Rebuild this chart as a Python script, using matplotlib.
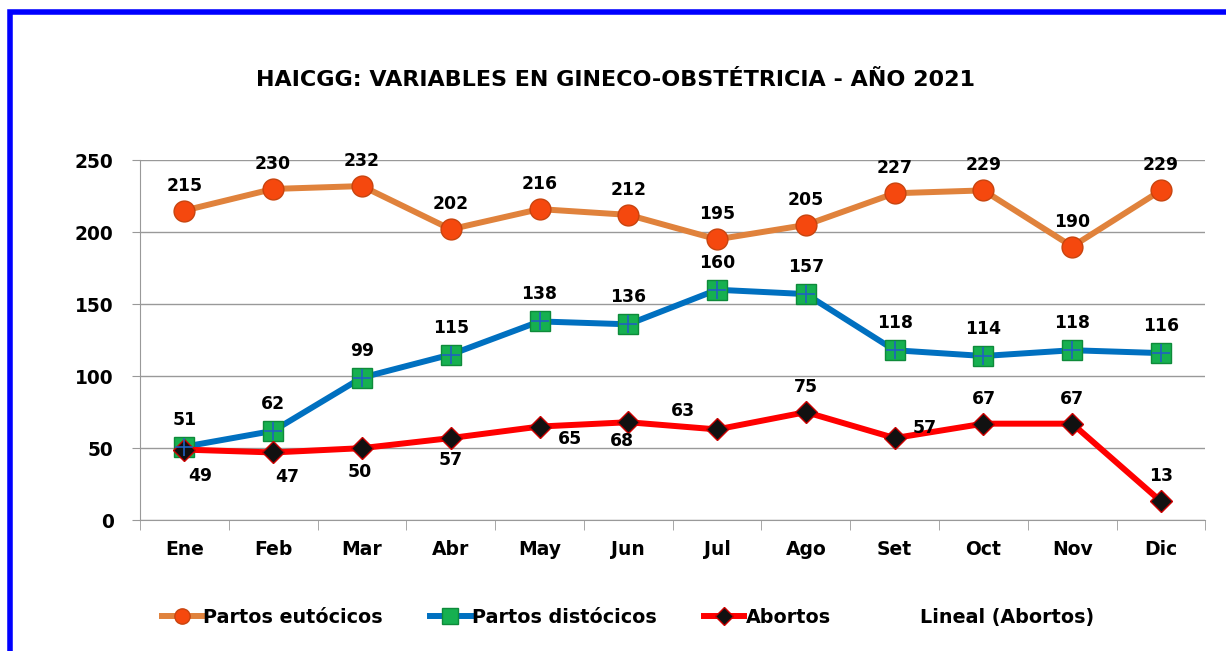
import matplotlib.pyplot as plt
from matplotlib.lines import Line2D
from matplotlib.patches import Rectangle

meses = ["Ene", "Feb", "Mar", "Abr", "May", "Jun", "Jul", "Ago", "Set", "Oct", "Nov", "Dic"]
eutocicos = [215, 230, 232, 202, 216, 212, 195, 205, 227, 229, 190, 229]
distocicos = [51, 62, 99, 115, 138, 136, 160, 157, 118, 114, 118, 116]
abortos = [49, 47, 50, 57, 65, 68, 63, 75, 57, 67, 67, 13]

# label offsets in pixels (x, y) for the abortos series
off_abortos = [(16, -26), (14, -25), (-2, -24), (0, -22), (30, -12), (-6, -19),
               (-34, 18), (0, 25), (30, 10), (0, 25), (0, 25), (0, 25)]

plt.rcParams["font.family"] = ["DejaVu Sans"]
plt.rcParams["font.weight"] = "bold"

fig = plt.figure(figsize=(12.26, 6.51), dpi=100)
ax = fig.add_axes([0.1142, 0.201, 0.869, 0.553])

x = list(range(len(meses)))

ax.plot(x, eutocicos, color="#E0823C", lw=4.3, zorder=3,
        marker="o", ms=15, mfc="#F5480E", mec="#C8440E", mew=1)
ax.plot(x, distocicos, color="#0070C0", lw=4.3, zorder=3,
        marker="s", ms=14, mfc="#16B050", mec="#0E8A3A", mew=1)
ax.plot(x, distocicos, ls="none", marker="+", ms=13, mec="#2060C0", mew=1.2, zorder=4)
ax.plot(x, abortos, color="#FF0000", lw=4.3, zorder=3,
        marker="D", ms=11, mfc="#111111", mec="#CC0000", mew=1)

for i in x:
    ax.annotate(str(eutocicos[i]), (i, eutocicos[i]), xytext=(0, 25),
                textcoords="offset pixels", ha="center", va="center",
                fontsize=12.4, fontweight="bold", zorder=5)
    ax.annotate(str(distocicos[i]), (i, distocicos[i]), xytext=(0, 27),
                textcoords="offset pixels", ha="center", va="center",
                fontsize=12.4, fontweight="bold", zorder=5)
    ax.annotate(str(abortos[i]), (i, abortos[i]), xytext=off_abortos[i],
                textcoords="offset pixels", ha="center", va="center",
                fontsize=12.4, fontweight="bold", zorder=5)

ax.set_xlim(-0.5, len(meses) - 0.5)
ax.set_ylim(0, 250)
ax.set_yticks(range(0, 251, 50))
ax.set_xticks(x)
ax.set_xticklabels(meses, fontsize=13.5, fontweight="bold")
ax.tick_params(axis="x", length=0, pad=14)
ax.set_xticks([i + 0.5 for i in range(-1, len(meses))], minor=True)
ax.tick_params(axis="x", which="minor", length=7, color="#999999", direction="out")
ax.tick_params(axis="y", labelsize=13.4, length=6, color="#999999", pad=13)
for lab in ax.get_yticklabels():
    lab.set_fontweight("bold")

ax.grid(axis="y", color="#999999", lw=1)
ax.set_axisbelow(True)
for s in ["top", "right"]:
    ax.spines[s].set_visible(False)
ax.spines["left"].set_color("#999999")
ax.spines["bottom"].set_color("#999999")

fig.text(0.502, 0.877, "HAICGG: VARIABLES EN GINECO-OBSTÉTRICIA - AÑO 2021",
         ha="center", va="center", fontsize=16, fontweight="bold")

handles = [
    Line2D([], [], color="#E0823C", lw=4.3, marker="o", ms=11, mfc="#F5480E", mec="#C8440E"),
    Line2D([], [], color="#0070C0", lw=4.3, marker="s", ms=11, mfc="#16B050", mec="#0E8A3A"),
    Line2D([], [], color="#FF0000", lw=4.3, marker="D", ms=9, mfc="#111111", mec="#CC0000"),
    Line2D([], [], color="white", lw=0),
]
labels = ["Partos eutócicos", "Partos distócicos", "Abortos", "Lineal (Abortos)"]
fig.legend(handles, labels, loc="center", bbox_to_anchor=(0.512, 0.052), ncol=4,
           frameon=False, handlelength=2.1, handletextpad=0.05,
           columnspacing=2.5, prop={"weight": "bold", "size": 13.8})

fig.add_artist(Rectangle((10 / 1226, -0.1), 1.2, 1 - 12 / 651 + 0.1,
                         transform=fig.transFigure, fill=False,
                         edgecolor="#0000FF", lw=4))

fig.savefig("out.png", dpi=100)
